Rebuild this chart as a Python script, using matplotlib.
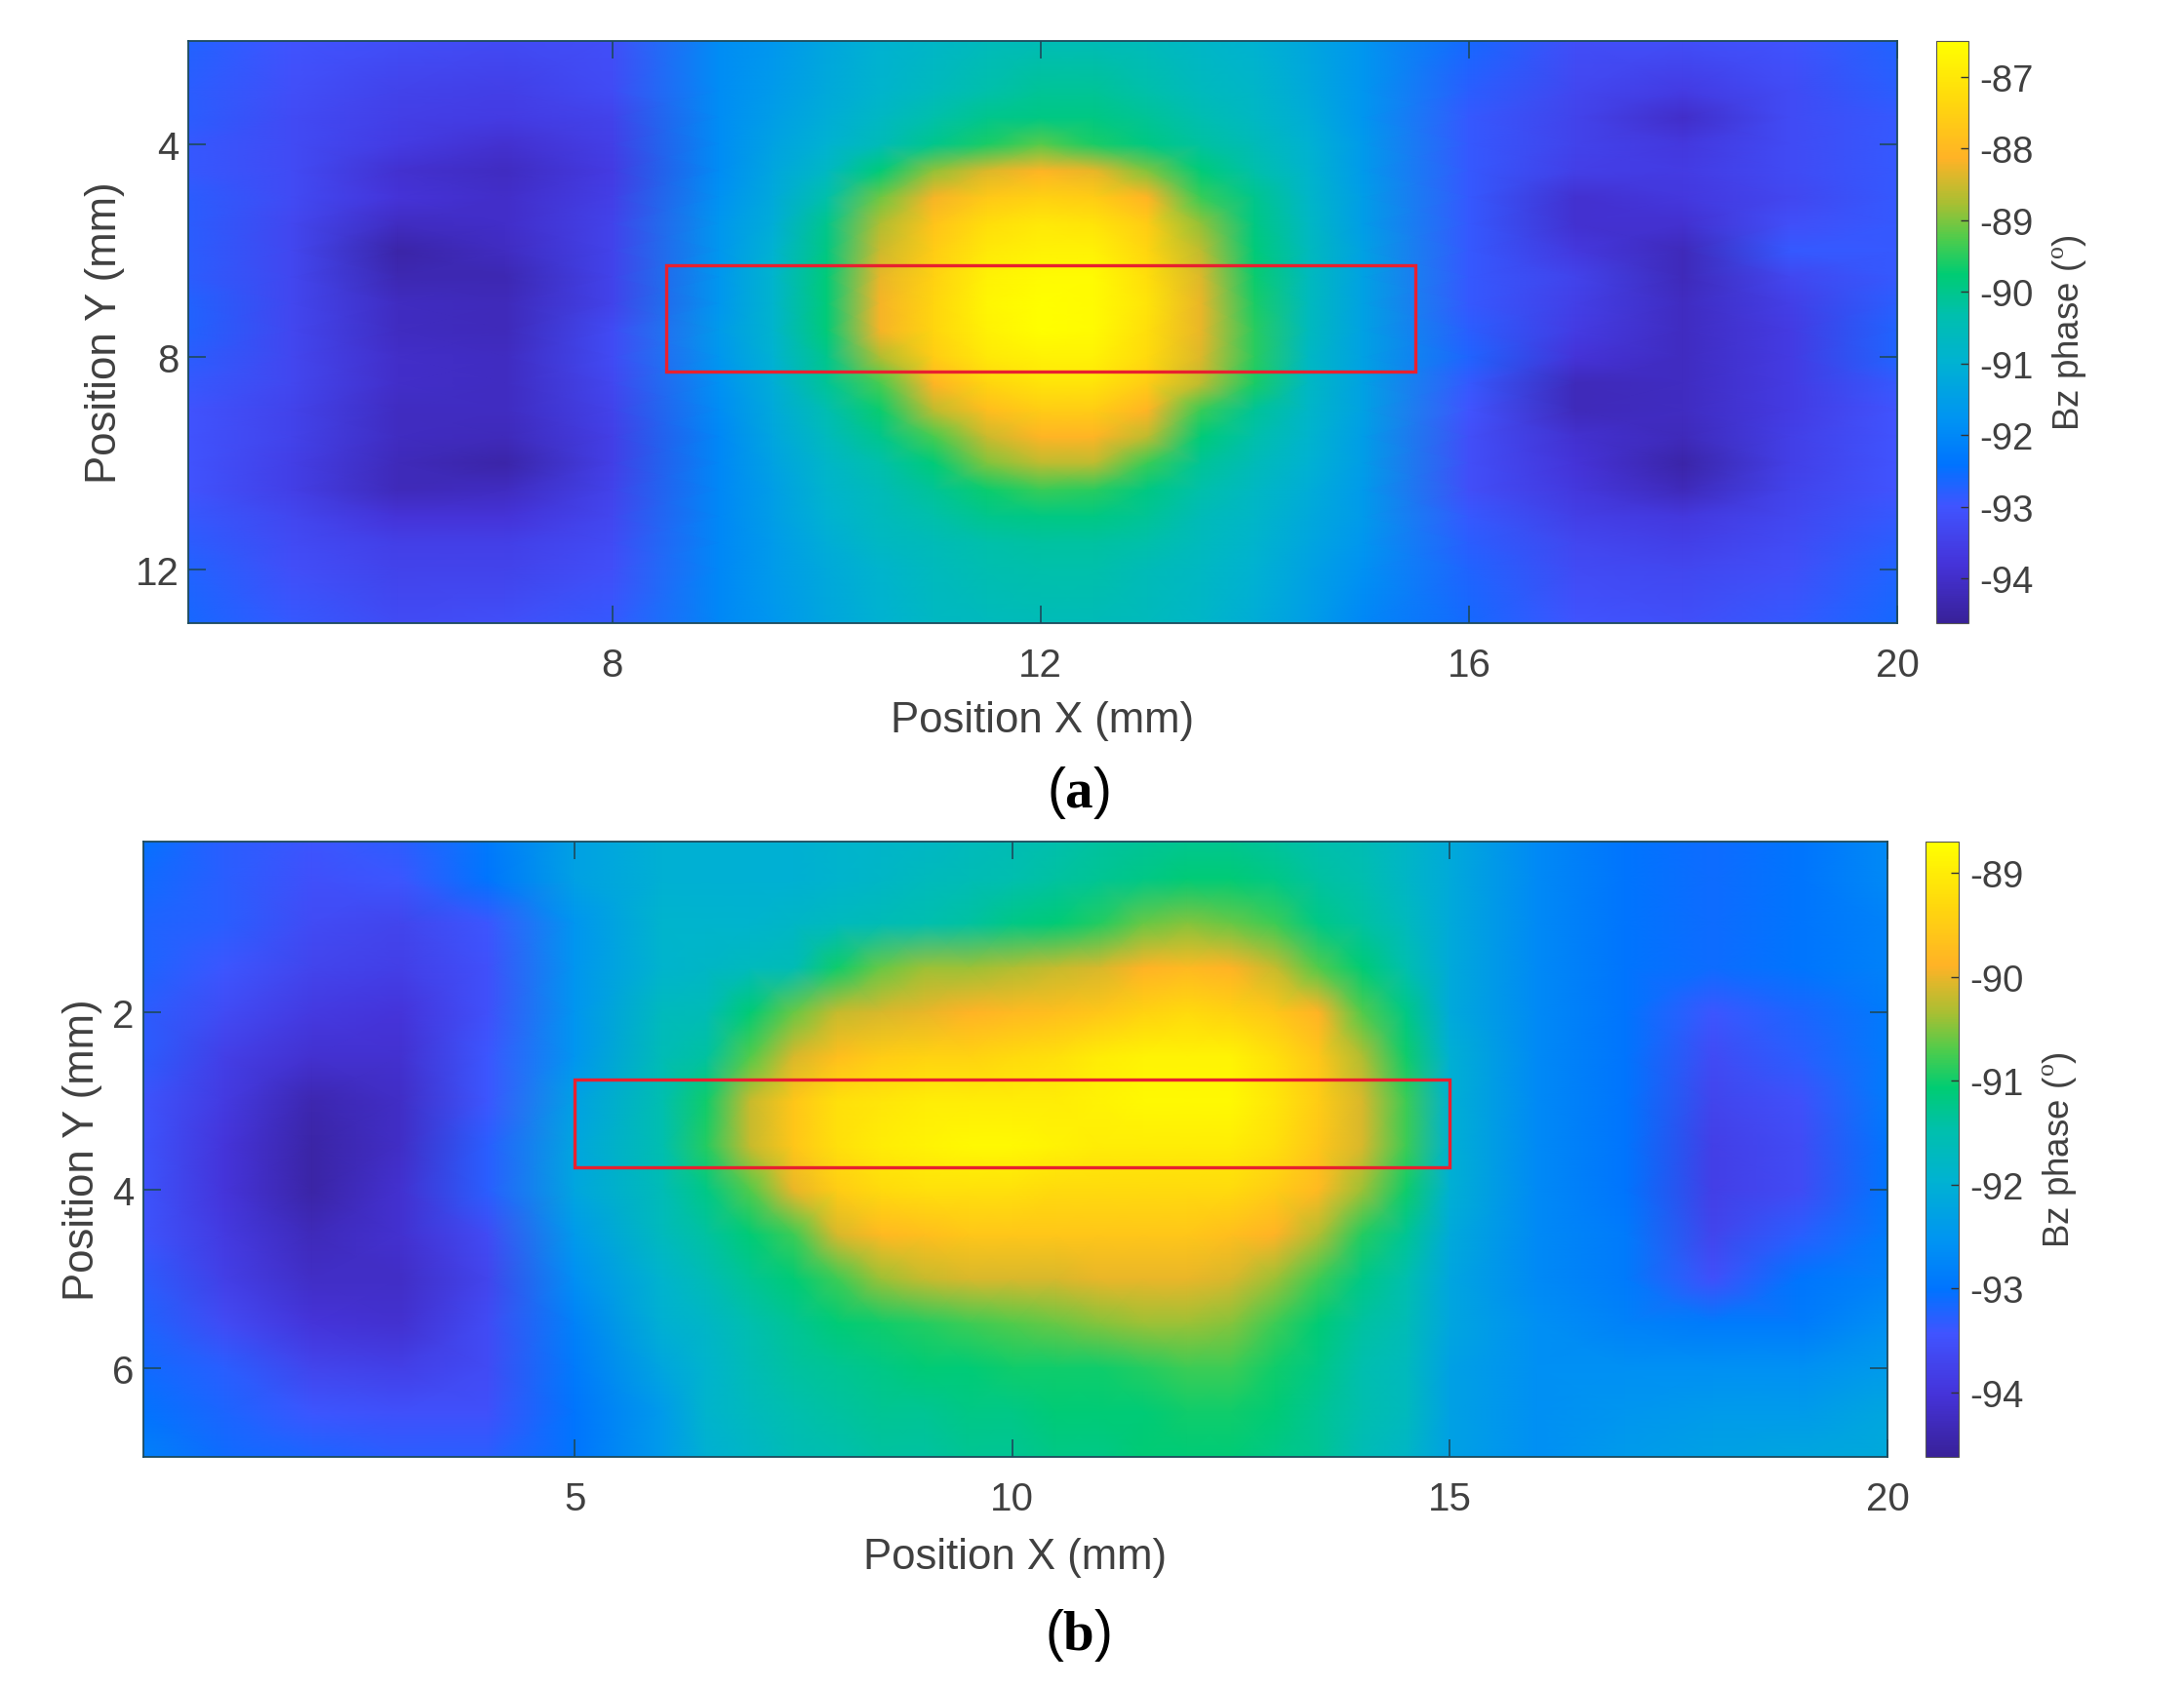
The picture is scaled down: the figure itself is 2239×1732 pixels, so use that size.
import numpy as np
import matplotlib
matplotlib.use("Agg")
import matplotlib.pyplot as plt
from matplotlib.colors import LinearSegmentedColormap
from matplotlib.patches import Rectangle

plt.rcParams['font.family'] = ['Liberation Sans', 'DejaVu Sans']
plt.rcParams['axes.unicode_minus'] = False
plt.rcParams['mathtext.fontset'] = 'custom'
plt.rcParams['mathtext.rm'] = 'Liberation Serif'
plt.rcParams['mathtext.bf'] = 'Liberation Serif:bold'

# panel a: phase, denser sampling around the hot spot
xa = [4, 5, 6, 7, 8, 9, 9.5, 10, 10.5, 11, 11.5, 12, 12.5, 13, 13.5, 14, 14.5, 15, 16, 17, 18, 19, 20]
ya = [2, 3, 3.5, 4, 4.5, 5, 5.5, 6, 6.5, 7, 7.5, 8, 8.5, 9, 9.5, 10, 10.5, 11, 11.5, 12, 13]
phase_a_left = [
    [-92.7, -93.0, -93.1, -93.2, -93.1, -91.9],
    [-92.8, -93.1, -93.4, -93.5, -93.2, -91.9],
    [-92.8, -93.2, -93.5, -93.6, -93.4, -91.9],
    [-92.9, -93.2, -93.6, -93.9, -93.5, -91.9],
    [-92.9, -93.2, -93.9, -94.1, -93.6, -91.9],
    [-92.8, -93.2, -93.8, -94.0, -93.5, -91.8],
    [-92.8, -93.3, -94.1, -94.0, -93.4, -91.7],
    [-92.8, -93.3, -94.4, -94.1, -93.4, -91.7],
    [-92.8, -93.3, -94.3, -94.3, -93.4, -91.7],
    [-92.7, -93.3, -94.1, -94.2, -93.4, -91.7],
    [-92.7, -93.3, -94.1, -94.2, -93.2, -91.6],
    [-92.8, -93.3, -94.0, -94.1, -93.2, -91.7],
    [-92.9, -93.3, -94.0, -94.1, -93.3, -91.8],
    [-93.0, -93.4, -94.1, -94.1, -93.4, -91.9],
    [-93.0, -93.4, -94.1, -94.2, -93.5, -92.0],
    [-93.0, -93.5, -94.2, -94.4, -93.5, -92.0],
    [-93.0, -93.5, -94.2, -94.1, -93.4, -92.0],
    [-92.9, -93.3, -93.8, -93.8, -93.3, -92.0],
    [-92.8, -93.2, -93.5, -93.5, -93.2, -92.0],
    [-92.7, -93.1, -93.4, -93.4, -93.1, -92.0],
    [-92.6, -92.9, -93.2, -93.1, -92.9, -92.0],
]
phase_a_mid = [
    [-91.7, -91.3, -91.0, -90.8, -90.6, -90.5, -90.5, -90.6, -90.8, -91.0, -91.3],
    [-91.6, -91.2, -90.9, -90.6, -90.3, -90.1, -90.1, -90.3, -90.6, -90.8, -91.2],
    [-91.5, -91.1, -90.7, -90.3, -90.0, -89.9, -89.9, -90.1, -90.4, -90.7, -91.1],
    [-91.4, -91.0, -90.5, -90.0, -89.6, -89.2, -89.6, -89.9, -90.2, -90.5, -91.0],
    [-91.3, -90.7, -89.8, -88.9, -88.4, -88.1, -88.3, -89.0, -89.8, -90.3, -90.9],
    [-91.2, -90.3, -89.1, -88.2, -87.7, -87.5, -87.6, -88.1, -89.4, -90.0, -90.8],
    [-91.1, -90.0, -88.7, -87.8, -87.2, -87.0, -87.1, -87.6, -88.9, -89.9, -90.7],
    [-91.0, -89.9, -88.5, -87.6, -87.0, -86.8, -86.8, -87.4, -88.6, -89.8, -90.6],
    [-90.9, -89.8, -88.3, -87.5, -86.8, -86.6, -86.6, -87.2, -88.4, -89.7, -90.6],
    [-90.9, -89.8, -88.2, -87.4, -86.7, -86.5, -86.6, -87.1, -88.3, -89.6, -90.6],
    [-90.9, -89.8, -88.2, -87.4, -86.8, -86.5, -86.6, -87.2, -88.3, -89.5, -90.6],
    [-91.0, -90.0, -88.7, -87.6, -87.0, -86.8, -86.8, -87.3, -88.4, -89.5, -90.7],
    [-91.1, -90.1, -89.3, -88.1, -87.4, -87.1, -87.1, -87.6, -88.6, -89.6, -90.7],
    [-91.2, -90.4, -89.7, -88.6, -87.9, -87.6, -87.6, -88.1, -89.4, -90.1, -90.8],
    [-91.3, -90.6, -90.0, -89.3, -88.5, -88.1, -88.1, -88.6, -89.8, -90.3, -90.9],
    [-91.4, -90.8, -90.3, -89.8, -89.0, -88.6, -88.6, -89.4, -90.1, -90.5, -91.0],
    [-91.5, -90.9, -90.5, -90.1, -89.7, -89.4, -89.5, -89.9, -90.3, -90.7, -91.1],
    [-91.5, -91.0, -90.6, -90.3, -90.0, -89.9, -89.9, -90.1, -90.5, -90.8, -91.2],
    [-91.6, -91.1, -90.7, -90.5, -90.3, -90.2, -90.2, -90.3, -90.6, -90.9, -91.3],
    [-91.6, -91.2, -90.9, -90.6, -90.4, -90.3, -90.3, -90.5, -90.7, -91.0, -91.4],
    [-91.7, -91.3, -91.0, -90.7, -90.6, -90.5, -90.5, -90.6, -90.8, -91.1, -91.5],
]
phase_a_right = [
    [-91.7, -92.6, -93.1, -93.1, -93.0, -92.7],
    [-91.7, -92.8, -93.3, -93.6, -93.2, -92.8],
    [-91.7, -92.9, -93.4, -94.0, -93.2, -92.9],
    [-91.6, -92.9, -93.4, -93.7, -93.2, -92.9],
    [-91.6, -92.9, -93.5, -93.6, -93.2, -92.9],
    [-91.5, -92.9, -93.9, -93.7, -93.3, -92.9],
    [-91.5, -92.9, -93.9, -93.9, -93.1, -92.9],
    [-91.4, -92.9, -93.7, -94.2, -92.9, -92.9],
    [-91.4, -92.9, -93.4, -94.2, -93.3, -92.9],
    [-91.4, -92.9, -93.5, -94.1, -93.5, -92.8],
    [-91.4, -92.8, -93.6, -94.1, -93.6, -92.7],
    [-91.4, -92.7, -93.8, -94.1, -93.6, -92.7],
    [-91.4, -92.9, -94.2, -94.1, -93.6, -92.9],
    [-91.4, -93.0, -94.2, -94.1, -93.6, -93.0],
    [-91.5, -93.1, -93.9, -94.2, -93.5, -93.0],
    [-91.5, -93.1, -93.8, -94.4, -93.5, -93.0],
    [-91.6, -93.1, -93.7, -94.2, -93.4, -93.0],
    [-91.6, -92.9, -93.5, -93.7, -93.3, -92.9],
    [-91.7, -92.8, -93.3, -93.5, -93.2, -92.8],
    [-91.8, -92.7, -93.2, -93.3, -93.1, -92.7],
    [-92.0, -92.6, -93.0, -93.1, -92.9, -92.6],
]

# panel b
xb = [0, 1, 2, 3, 4, 5, 6, 6.5, 7, 7.5, 8, 8.5, 9, 9.5, 10, 10.5, 11, 11.5, 12, 12.5, 13, 13.5, 14, 14.5,
      15, 16, 17, 18, 19, 20]
yb = [0, 0.5, 1, 1.5, 2, 2.5, 3, 3.5, 4, 4.5, 5, 5.5, 6, 6.5, 7]
phase_b_left = [
    [-93.0, -93.3, -93.4, -93.3, -92.9, -92.3, -92.0],
    [-93.1, -93.3, -93.5, -93.4, -93.0, -92.3, -92.0],
    [-93.2, -93.3, -93.6, -93.7, -93.4, -92.5, -91.9],
    [-93.2, -93.4, -93.7, -93.8, -93.5, -92.5, -91.9],
    [-93.3, -93.6, -93.9, -94.0, -93.5, -92.5, -91.7],
    [-93.3, -93.8, -94.1, -94.1, -93.4, -92.5, -91.6],
    [-93.4, -93.9, -94.4, -94.2, -93.4, -92.3, -91.5],
    [-93.4, -94.0, -94.5, -94.2, -93.3, -92.2, -91.5],
    [-93.4, -94.0, -94.5, -94.1, -93.3, -92.2, -91.6],
    [-93.4, -93.9, -94.3, -94.1, -93.6, -92.4, -91.7],
    [-93.3, -93.8, -94.2, -94.2, -93.7, -92.6, -91.9],
    [-93.2, -93.6, -94.0, -94.1, -93.6, -92.8, -92.0],
    [-93.1, -93.3, -93.7, -93.8, -93.6, -92.9, -92.2],
    [-93.0, -93.2, -93.4, -93.5, -93.5, -93.0, -92.4],
    [-92.8, -93.1, -93.2, -93.3, -93.3, -93.0, -92.4],
]
phase_b_mid = [
    [-92.0, -92.0, -92.0, -91.9, -91.85, -91.8, -91.7, -91.6, -91.5, -91.4, -91.35, -91.3, -91.3, -91.4, -91.5, -91.6, -91.8],
    [-92.0, -92.0, -92.0, -91.9, -91.8, -91.7, -91.6, -91.5, -91.4, -91.3, -91.2, -91.1, -91.1, -91.2, -91.4, -91.5, -91.8],
    [-91.9, -91.9, -91.8, -91.7, -91.6, -91.5, -91.4, -91.2, -91.1, -90.9, -90.6, -90.5, -90.6, -90.8, -91.2, -91.4, -91.7],
    [-91.8, -91.7, -91.6, -91.0, -90.6, -90.4, -90.4, -90.3, -90.2, -90.1, -89.9, -89.8, -89.9, -90.2, -90.7, -91.1, -91.5],
    [-91.6, -91.1, -90.6, -90.2, -90.1, -90.0, -89.9, -89.8, -89.7, -89.6, -89.4, -89.3, -89.4, -89.6, -89.9, -90.7, -91.2],
    [-91.4, -90.7, -90.1, -89.7, -89.5, -89.4, -89.4, -89.3, -89.2, -89.0, -88.9, -88.9, -88.9, -89.2, -89.6, -90.3, -91.0],
    [-91.0, -90.2, -89.6, -89.2, -89.1, -89.0, -89.0, -89.0, -89.0, -88.9, -88.8, -88.8, -88.8, -89.1, -89.5, -90.1, -90.8],
    [-90.9, -90.2, -89.6, -89.2, -89.0, -88.9, -88.8, -88.8, -88.9, -89.0, -89.0, -89.0, -89.0, -89.2, -89.6, -90.1, -90.8],
    [-91.2, -90.7, -90.0, -89.5, -89.3, -89.2, -89.2, -89.2, -89.3, -89.3, -89.3, -89.3, -89.3, -89.5, -89.8, -90.4, -91.0],
    [-91.4, -91.1, -90.8, -90.1, -89.8, -89.7, -89.6, -89.6, -89.6, -89.6, -89.6, -89.6, -89.7, -89.9, -90.3, -90.9, -91.3],
    [-91.6, -91.3, -91.1, -90.8, -90.4, -90.2, -90.1, -90.1, -90.1, -90.0, -90.0, -90.0, -90.1, -90.4, -90.8, -91.2, -91.5],
    [-91.8, -91.5, -91.3, -91.1, -91.0, -90.9, -90.8, -90.7, -90.6, -90.5, -90.4, -90.4, -90.5, -90.8, -91.1, -91.4, -91.6],
    [-91.9, -91.6, -91.4, -91.3, -91.2, -91.1, -91.1, -91.0, -91.0, -91.0, -90.9, -90.8, -90.8, -91.0, -91.2, -91.5, -91.7],
    [-91.9, -91.7, -91.5, -91.4, -91.3, -91.3, -91.2, -91.2, -91.1, -91.1, -91.1, -91.0, -91.0, -91.1, -91.3, -91.5, -91.7],
    [-92.0, -91.8, -91.6, -91.5, -91.4, -91.4, -91.3, -91.3, -91.2, -91.2, -91.1, -91.1, -91.1, -91.2, -91.3, -91.6, -91.8],
]
phase_b_right = [
    [-92.1, -92.7, -93.0, -93.1, -93.0, -92.7],
    [-92.1, -92.7, -93.0, -93.1, -93.0, -92.7],
    [-92.1, -92.7, -93.0, -93.1, -93.0, -92.8],
    [-92.1, -92.7, -93.0, -93.1, -93.0, -92.8],
    [-92.1, -92.7, -93.0, -93.4, -93.2, -92.9],
    [-92.0, -92.7, -93.0, -93.6, -93.3, -92.9],
    [-92.0, -92.7, -93.0, -93.7, -93.5, -92.9],
    [-92.0, -92.7, -93.0, -93.8, -93.6, -93.0],
    [-92.0, -92.7, -93.0, -93.8, -93.6, -93.0],
    [-92.1, -92.7, -92.9, -93.7, -93.3, -92.9],
    [-92.2, -92.7, -92.9, -93.5, -93.0, -92.8],
    [-92.2, -92.6, -92.8, -92.9, -92.9, -92.6],
    [-92.3, -92.6, -92.6, -92.6, -92.6, -92.4],
    [-92.3, -92.6, -92.5, -92.4, -92.4, -92.2],
    [-92.3, -92.6, -92.4, -92.3, -92.2, -92.1],
]

xticks_a = [8, 12, 16, 20]
yticks_a = [4, 8, 12]
cticks_a = [-94, -93, -92, -91, -90, -89, -88, -87]
clim_a = (-94.62, -86.5)
box_a = (8.5, 6.27, 7.0, 2.01)

xticks_b = [5, 10, 15, 20]
yticks_b = [2, 4, 6]
cticks_b = [-94, -93, -92, -91, -90, -89]
clim_b = (-94.62, -88.7)
box_b = (5, 2.757, 10, 0.988)

cmap = LinearSegmentedColormap.from_list("parulaish", [
    (0.00, (0.22, 0.13, 0.60)),
    (0.10, (0.27, 0.20, 0.85)),
    (0.20, (0.25, 0.33, 1.00)),
    (0.27, (0.00, 0.45, 1.00)),
    (0.35, (0.00, 0.58, 0.95)),
    (0.45, (0.00, 0.70, 0.82)),
    (0.53, (0.00, 0.75, 0.68)),
    (0.60, (0.00, 0.80, 0.45)),
    (0.66, (0.30, 0.80, 0.30)),
    (0.72, (0.65, 0.75, 0.20)),
    (0.80, (1.00, 0.70, 0.15)),
    (0.90, (1.00, 0.85, 0.05)),
    (1.00, (1.00, 1.00, 0.00)),
], N=256)

W, H = 2239, 1733
TXT = '#404040'
LINE = '#1d4a5c'


def px_axes(fig, x0, y0, x1, y1):
    return fig.add_axes([x0 / W, 1 - y1 / H, (x1 - x0) / W, (y1 - y0) / H])


def panel(fig, rect, crect, xs, ys, data, clim, xlim, ylim, xticks, yticks, cticks, box, xlab_y, ylab_x, lpad):
    ax = px_axes(fig, *rect)
    im = ax.pcolormesh(xs, ys, data, cmap=cmap, vmin=clim[0], vmax=clim[1], shading='gouraud')
    ax.set_xlim(*xlim)
    ax.set_ylim(*ylim)
    ax.set_xticks(xticks)
    ax.set_yticks(yticks)
    ax.tick_params(direction='in', length=13, width=1.2, top=True, right=True, color=LINE,
                   labelsize=29, labelcolor=TXT)
    ax.tick_params(axis='x', pad=17)
    ax.tick_params(axis='y', pad=7)
    for s in ax.spines.values():
        s.set_color(LINE)
        s.set_linewidth(1.3)
    ax.add_patch(Rectangle(box[:2], box[2], box[3], fill=False, edgecolor='#e8202f', linewidth=2.4))
    fig.text((rect[0] + rect[2]) / 2 / W, 1 - xlab_y / H, 'Position X (mm)', fontsize=31.5, color=TXT,
             ha='center', va='center')
    fig.text(ylab_x / W, 1 - (rect[1] + rect[3]) / 2 / H, 'Position Y (mm)', fontsize=31.5, color=TXT,
             rotation=90, ha='center', va='center')

    cax = px_axes(fig, *crect)
    cb = fig.colorbar(im, cax=cax)
    cb.set_ticks(cticks)
    cb.ax.tick_params(direction='in', length=6, width=1.0, color='#333333', labelsize=27.5,
                      labelcolor=TXT, pad=8)
    cb.outline.set_edgecolor('#555555')
    cb.outline.set_linewidth(0.8)
    cb.set_label(r'Bz phase ($^{\mathrm{o}}$)', fontsize=26.5, color=TXT, labelpad=lpad)
    return ax


fig = plt.figure(figsize=(W / 100, H / 100), dpi=100, facecolor='white')

panel(fig, (193, 43, 1945, 640), (1985, 43, 2018, 640), xa, ya,
      np.hstack([phase_a_left, phase_a_mid, phase_a_right]), clim_a, (4.04, 20), (13, 2.06),
      xticks_a, yticks_a, cticks_a, box_a, 740, 108, 13)
panel(fig, (147, 864, 1935, 1495), (1974, 864, 2008, 1495), xb, yb,
      np.hstack([phase_b_left, phase_b_mid, phase_b_right]), clim_b, (0.07, 20), (7, 0.08),
      xticks_b, yticks_b, cticks_b, box_b, 1598, 85, 13)

fig.text(1105 / W, 1 - 813 / H, r'($\mathbf{a}$)', fontsize=41, color='black', ha='center', va='center')
fig.text(1105 / W, 1 - 1677 / H, r'($\mathbf{b}$)', fontsize=41, color='black', ha='center', va='center')

fig.savefig('out.png', dpi=100)
